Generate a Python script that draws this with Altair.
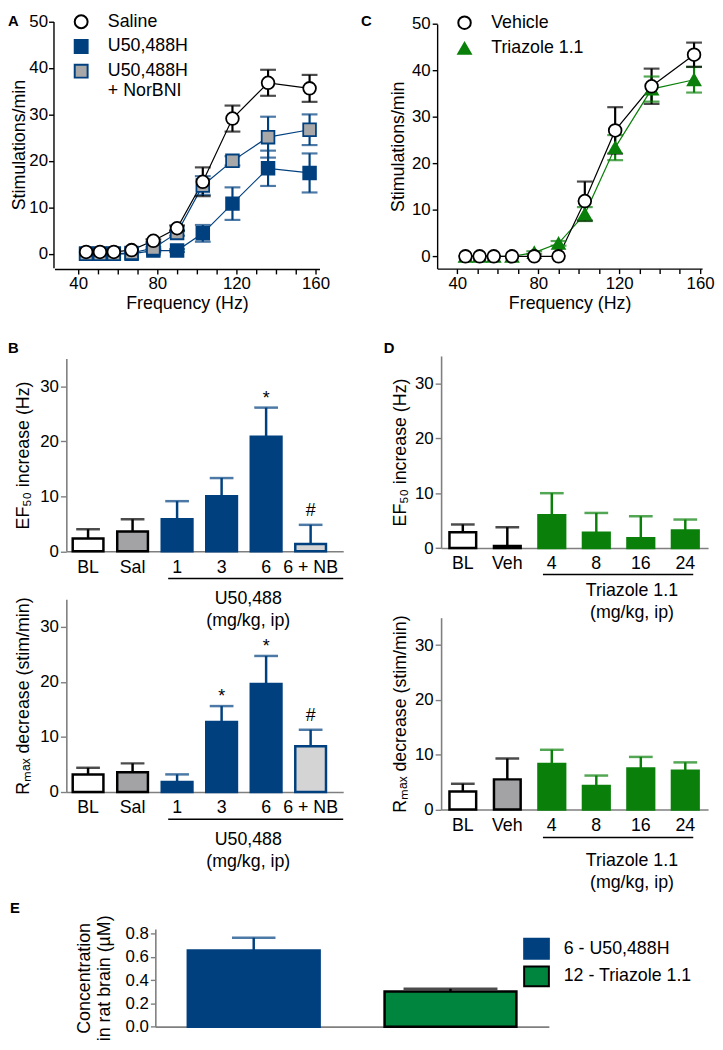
import altair as alt
import pandas as pd

W, H = 715, 1042
FONT = "Liberation Sans, Arial, Helvetica, sans-serif"
BLUE = "#00407f"
GREEN = "#0a800a"
EGREEN = "#00853f"
SALGRAY = "#a3a3a6"
NBGRAY = "#d4d4d4"
SQGRAY = "#a8a8a8"
AXGRAY = "#7f7f7f"

# ---------------- data ----------------
freq_hz = [44, 51, 58, 67, 78, 90, 103, 118, 136, 157]

saline_mean = [0.4, 0.4, 0.4, 0.8, 2.8, 5.5, 15.5, 29.1, 36.8, 35.6]
saline_sem = [0, 0, 0, 0, 0.3, 0.6, 3.1, 2.8, 2.8, 2.9]
u50_mean = [0, 0, 0, 0, 0.7, 0.7, 4.4, 10.8, 18.4, 17.4]
u50_sem = [0, 0, 0, 0, 0.3, 0.3, 1.8, 3.5, 3.8, 4.2]
nor_mean = [0, 0, 0, 0.2, 1.2, 4.5, 14.7, 20.0, 25.1, 26.7]
nor_sem = [0, 0, 0, 0, 0.3, 0.6, 2.0, 1.0, 4.4, 3.3]

veh_mean = [0, 0, 0, 0, 0, 0, 11.9, 27.1, 36.6, 43.4]
veh_sem = [0, 0, 0, 0, 0, 0, 4.2, 5.0, 3.8, 2.6]
tri_mean = [0, 0, 0, 0, 0.8, 2.8, 9.1, 23.4, 36.0, 38.0]
tri_sem = [0, 0, 0, 0, 0.3, 0.5, 1.5, 2.7, 2.7, 2.75]

cats_B = ["BL", "Sal", "1", "3", "6", "6 + NB"]
ef50_B = [2.3, 3.6, 5.8, 10.0, 20.8, 1.3]
ef50_B_sem = [1.7, 2.2, 3.3, 3.3, 5.3, 3.5]
ef50_B_sig = ["", "", "", "", "*", "#"]
rmax_B = [3.2, 3.6, 1.8, 12.7, 19.6, 8.3]
rmax_B_sem = [1.2, 1.6, 1.4, 2.9, 5.1, 3.0]
rmax_B_sig = ["", "", "", "*", "*", "#"]

cats_D = ["BL", "Veh", "4", "8", "16", "24"]
ef50_D = [2.9, 0.4, 6.0, 2.8, 1.8, 3.2]
ef50_D_sem = [1.4, 3.4, 4.0, 3.6, 4.0, 2.0]
rmax_D = [3.3, 5.5, 8.3, 4.3, 7.5, 7.1]
rmax_D_sem = [1.4, 3.8, 2.6, 1.9, 2.1, 1.5]
no_sig = ["", "", "", "", "", ""]

cats_E = ["6 - U50,488H", "12 - Triazole 1.1"]
conc_E = [0.655, 0.302]
conc_E_sem = [0.11, 0.024]

panel_letters = ["A", "B", "C", "D", "E"]
group_B = "U50,488"
group_D = "Triazole 1.1"
dose_unit = "(mg/kg, ip)"


# ---------------- helpers ----------------
def axis(color="black", **kw):
    base = dict(grid=False, domainColor=color, tickColor=color, domainWidth=1.4,
                tickWidth=1.4, labelColor="black", titleColor="black",
                labelFont=FONT, titleFont=FONT, labelFontSize=17, titleFontSize=18,
                titleFontWeight="normal", labelFlush=False, labelOverlap=False)
    base.update(kw)
    return alt.Axis(**base)


def series_frame(names, means, sems):
    rows = []
    for name, m, s in zip(names, means, sems):
        for f, mv, sv in zip(freq_hz, m, s):
            rows.append({"series": name, "x": f, "y": mv, "err": sv,
                         "lo": mv - sv, "hi": mv + sv})
    return pd.DataFrame(rows)


def bar_frame(cats, means, sems, sig):
    return pd.DataFrame({"cat": cats, "v": means,
                         "hi": [m + s for m, s in zip(means, sems)], "sig": sig})


def line_panel(df, order, xs, xa, ys, ya, line_colors, fills, strokes, shapes, legend):
    x = alt.X("x:Q", scale=xs, axis=xa)
    # spare domain entry keeps the hidden line-colour legend from merging with the symbol legend
    col = alt.Color("series:N", scale=alt.Scale(domain=order + ["-"], range=line_colors + ["black"]),
                    legend=None)
    lines = alt.Chart(df).mark_line(strokeWidth=1.2).encode(
        x=x, y=alt.Y("y:Q", scale=ys, axis=ya), color=col)
    edf = df[df["err"] > 0]
    err = alt.Chart(edf).mark_rule(strokeWidth=2.2).encode(
        x=x, y=alt.Y("lo:Q", scale=ys, axis=ya), y2="hi:Q", color=col)
    cap_hi = alt.Chart(edf).mark_tick(orient="horizontal", size=16, thickness=2.2).encode(
        x=x, y=alt.Y("hi:Q", scale=ys, axis=ya), color=col)
    cap_lo = alt.Chart(edf).mark_tick(orient="horizontal", size=16, thickness=2.2).encode(
        x=x, y=alt.Y("lo:Q", scale=ys, axis=ya), color=col)
    pts = alt.Chart(df).mark_point(filled=True, opacity=1, strokeWidth=1.8, size=165).encode(
        x=x, y=alt.Y("y:Q", scale=ys, axis=ya),
        shape=alt.Shape("series:N", scale=alt.Scale(domain=order, range=shapes), legend=legend),
        fill=alt.Fill("series:N", scale=alt.Scale(domain=order, range=fills), legend=legend),
        stroke=alt.Stroke("series:N", scale=alt.Scale(domain=order, range=strokes), legend=legend))
    return alt.layer(lines, err, cap_hi, cap_lo, pts)


def bar_panel(df, cats, xs, xa, ys, ya, fills, strokes, cap=24):
    x = alt.X("cat:N", sort=cats, scale=xs, axis=xa)
    bars = alt.Chart(df).mark_bar(strokeWidth=2.5).encode(
        x=x, y=alt.Y("v:Q", scale=ys, axis=ya),
        fill=alt.Fill("cat:N", scale=alt.Scale(domain=cats, range=fills), legend=None),
        stroke=alt.Stroke("cat:N", scale=alt.Scale(domain=cats, range=strokes), legend=None))
    col = alt.Color("cat:N", scale=alt.Scale(domain=cats, range=strokes), legend=None)
    err = alt.Chart(df).mark_rule(strokeWidth=2.5).encode(
        x=x, y=alt.Y("v:Q", scale=ys, axis=ya), y2="hi:Q", color=col)
    caps = alt.Chart(df).mark_tick(orient="horizontal", size=cap, thickness=2.5).encode(
        x=x, y=alt.Y("hi:Q", scale=ys, axis=ya), color=col)
    star = alt.Chart(df).transform_filter("datum.sig == '*'").mark_text(
        font=FONT, fontSize=18, dy=-4, baseline="alphabetic", color="black").encode(
        x=x, y=alt.Y("hi:Q", scale=ys, axis=ya), text="sig:N")
    hsh = alt.Chart(df).transform_filter("datum.sig == '#'").mark_text(
        font=FONT, fontSize=18, dy=-9, baseline="alphabetic", color="black").encode(
        x=x, y=alt.Y("hi:Q", scale=ys, axis=ya), text="sig:N")
    return alt.layer(bars, err, caps, star, hsh)


dummy = pd.DataFrame({"k": [0]})


def note(text, x, y, size=18, weight="normal", align="center", baseline="middle"):
    return alt.Chart(dummy).mark_text(
        text=text, font=FONT, fontSize=size, fontWeight=weight, color="black",
        align=align, baseline=baseline, lineBreak="\n", lineHeight=22).encode(
        x=alt.value(x), y=alt.value(y))


def hline(x1, x2, y):
    return alt.Chart(dummy).mark_rule(color="black", strokeWidth=1.5).encode(
        x=alt.value(x1), x2=alt.value(x2), y=alt.value(y))


# ---------------- panel A ----------------
orderA = ["Saline", "U50,488H", "U50,488H + NorBNI"]
dfA = series_frame(["U50,488H", "U50,488H + NorBNI", "Saline"],
                   [u50_mean, nor_mean, saline_mean], [u50_sem, nor_sem, saline_sem])
xsA = alt.Scale(domain=[28, 162], range=[47, 315], nice=False, zero=False)
ysA = alt.Scale(domain=[-3, 50], range=[256.8, 7.7], nice=False, zero=False)
xaA = axis(orient="bottom", offset=258 - H, values=list(range(40, 161, 10)),
           labelExpr="datum.value % 40 === 0 ? datum.label : ''", tickSize=5,
           labelPadding=2, title="Frequency (Hz)", titlePadding=3)
yaA = axis(orient="left", offset=-46, values=[0, 10, 20, 30, 40, 50], tickSize=5,
           labelPadding=1, title="Stimulations/min", titlePadding=0)
legA = alt.Legend(title=None, orient="none", legendX=65, legendY=-1, symbolSize=170,
                  symbolStrokeWidth=2, labelFontSize=18, labelFont=FONT, labelColor="black",
                  labelOffset=18, rowPadding=3, padding=0,
                  labelExpr="datum.label == 'U50,488H + NorBNI' ? ['U50,488H', '+ NorBNI'] : datum.label")
panelA = line_panel(dfA, orderA, xsA, xaA, ysA, yaA,
                    ["black", BLUE, BLUE], ["white", BLUE, SQGRAY], ["black", BLUE, BLUE],
                    ["circle", "square", "square"], legA)

# ---------------- panel C ----------------
orderC = ["Vehicle", "Triazole 1.1"]
dfC = series_frame(["Triazole 1.1", "Vehicle"], [tri_mean, veh_mean], [tri_sem, veh_sem])
xsC = alt.Scale(domain=[30, 161], range=[434, 702], nice=False, zero=False)
ysC = alt.Scale(domain=[-2.6, 50], range=[257.5, 10.3], nice=False, zero=False)
xaC = axis(orient="bottom", offset=257.7 - H, values=list(range(40, 161, 10)),
           labelExpr="datum.value % 40 === 0 ? datum.label : ''", tickSize=5,
           labelPadding=2, title="Frequency (Hz)", titlePadding=3)
yaC = axis(orient="left", offset=-434, values=[0, 10, 20, 30, 40, 50], tickSize=5,
           labelPadding=2, title="Stimulations/min", titlePadding=4)
legC = alt.Legend(title=None, orient="none", legendX=452.7, legendY=0, symbolSize=160,
                  symbolStrokeWidth=2, labelFontSize=18, labelFont=FONT, labelColor="black",
                  labelOffset=18, rowPadding=5, padding=0)
panelC = line_panel(dfC, orderC, xsC, xaC, ysC, yaC,
                    ["black", GREEN], ["white", GREEN], ["black", GREEN],
                    ["circle", "triangle-up"], legC)

# ---------------- panel B ----------------
xsB = alt.Scale(domain=cats_B, range=[59, 339], paddingInner=0.31, paddingOuter=0.265, align=0.27)
fillB = ["white", SALGRAY, BLUE, BLUE, BLUE, NBGRAY]
strokeB = ["black", "black", BLUE, BLUE, BLUE, BLUE]

ysBu = alt.Scale(domain=[0, 35], range=[543.5, 348.7], nice=False, zero=False)
xaBu = axis(color=AXGRAY, orient="bottom", offset=543.5 - H, title=None, ticks=False,
            tickSize=0, labelPadding=7, labelAngle=0, labelFontSize=18, domainWidth=1.6)
yaBu = axis(color=AXGRAY, orient="left", offset=-59, values=[0, 10, 20, 30], tickSize=6,
            labelPadding=2, title="EF₅₀ increase (Hz)", titlePadding=7, domainWidth=1.6)
panelBu = bar_panel(bar_frame(cats_B, ef50_B, ef50_B_sem, ef50_B_sig), cats_B,
                    xsB, xaBu, ysBu, yaBu, fillB, strokeB)

ysBl = alt.Scale(domain=[0, 35], range=[787, 592], nice=False, zero=False)
xaBl = axis(color=AXGRAY, orient="bottom", offset=787 - H, title=None, ticks=False,
            tickSize=0, labelPadding=7, labelAngle=0, labelFontSize=18, domainWidth=1.6)
yaBl = axis(color=AXGRAY, orient="left", offset=-59, values=[0, 10, 20, 30], tickSize=6,
            labelPadding=2, title="Rₘₐₓ decrease (stim/min)", titlePadding=7, domainWidth=1.6)
panelBl = bar_panel(bar_frame(cats_B, rmax_B, rmax_B_sem, rmax_B_sig), cats_B,
                    xsB, xaBl, ysBl, yaBl, fillB, strokeB)

# ---------------- panel D ----------------
xsD = alt.Scale(domain=cats_D, range=[438, 708], paddingInner=0.4, paddingOuter=0.2, align=0.47)
fillD = ["white", SALGRAY, GREEN, GREEN, GREEN, GREEN]
strokeD = ["black", "black", GREEN, GREEN, GREEN, GREEN]

ysDu = alt.Scale(domain=[0, 35], range=[540.3, 346], nice=False, zero=False)
xaDu = axis(color=AXGRAY, orient="bottom", offset=540.3 - H, title=None, ticks=False,
            tickSize=0, labelPadding=7, labelAngle=0, labelFontSize=18, domainWidth=1.6)
yaDu = axis(color=AXGRAY, orient="left", offset=-438, values=[0, 10, 20, 30], tickSize=6,
            labelPadding=2, title="EF₅₀ increase (Hz)", titlePadding=5, domainWidth=1.6)
panelDu = bar_panel(bar_frame(cats_D, ef50_D, ef50_D_sem, no_sig), cats_D,
                    xsD, xaDu, ysDu, yaDu, fillD, strokeD)

ysDl = alt.Scale(domain=[0, 35], range=[804.7, 610.7], nice=False, zero=False)
xaDl = axis(color=AXGRAY, orient="bottom", offset=804.7 - H, title=None, ticks=False,
            tickSize=0, labelPadding=7, labelAngle=0, labelFontSize=18, domainWidth=1.6)
yaDl = axis(color=AXGRAY, orient="left", offset=-438, values=[0, 10, 20, 30], tickSize=6,
            labelPadding=2, title="Rₘₐₓ decrease (stim/min)", titlePadding=5, domainWidth=1.6)
panelDl = bar_panel(bar_frame(cats_D, rmax_D, rmax_D_sem, no_sig), cats_D,
                    xsD, xaDl, ysDl, yaDl, fillD, strokeD)

# ---------------- panel E ----------------
dfE = pd.DataFrame({"cat": cats_E, "v": conc_E,
                    "hi": [m + s for m, s in zip(conc_E, conc_E_sem)]})
E0 = 1024.3
xsE = alt.Scale(domain=cats_E, range=[149, 547], paddingInner=0.33, paddingOuter=0.165)
ysE = alt.Scale(domain=[0, 0.84], range=[E0, E0 - 0.84 * 117.5], nice=False, zero=False)
xaE = axis(color=AXGRAY, orient="bottom", offset=E0 - H, title=None, ticks=False,
           labels=False, domainWidth=1.6)
yaE = axis(color=AXGRAY, orient="left", offset=-149, values=[0, 0.2, 0.4, 0.6, 0.8],
           format=".1f", tickSize=5, labelPadding=2,
           title=["Concentration", "in rat brain (µM)"], titlePadding=12,
           titleLineHeight=20, domainWidth=1.6)
legE = alt.Legend(title=None, orient="none", legendX=523.5, legendY=934.5,
                  symbolType="M-1.25,-1L1.25,-1L1.25,1L-1.25,1Z", symbolSize=400,
                  symbolStrokeWidth=2, labelFontSize=18, labelFont=FONT, labelColor="black",
                  labelOffset=16.5, rowPadding=0, padding=0)
xE = alt.X("cat:N", sort=cats_E, scale=xsE, axis=xaE)
barsE = alt.Chart(dfE).mark_bar(strokeWidth=2.5).encode(
    x=xE, y=alt.Y("v:Q", scale=ysE, axis=yaE),
    fill=alt.Fill("cat:N", scale=alt.Scale(domain=cats_E, range=[BLUE, EGREEN]), legend=legE),
    stroke=alt.Stroke("cat:N", scale=alt.Scale(domain=cats_E, range=[BLUE, "black"]), legend=legE))
colE = alt.Color("cat:N", scale=alt.Scale(domain=cats_E, range=[BLUE, "black"]), legend=None)
errE = alt.Chart(dfE).mark_rule(strokeWidth=2.5).encode(
    x=xE, y=alt.Y("v:Q", scale=ysE, axis=yaE), y2="hi:Q", color=colE)
capE1 = alt.Chart(dfE).transform_filter(alt.datum.cat == cats_E[0]).mark_tick(
    orient="horizontal", thickness=2.5, size=44).encode(
    x=xE, y=alt.Y("hi:Q", scale=ysE, axis=yaE), color=colE)
capE2 = alt.Chart(dfE).transform_filter(alt.datum.cat == cats_E[1]).mark_tick(
    orient="horizontal", thickness=2.5, size=95).encode(
    x=xE, y=alt.Y("hi:Q", scale=ysE, axis=yaE), color=colE)
panelE = alt.layer(barsE, errE, capE1, capE2)

# ---------------- annotations ----------------
notes = [
    note(panel_letters[0], 0, 0, size=15, weight="bold", align="left", baseline="top"),
    note(panel_letters[1], 0, 331, size=15, weight="bold", align="left", baseline="top"),
    note(panel_letters[2], 357, 0, size=15, weight="bold", align="left", baseline="top"),
    note(panel_letters[3], 380, 331, size=15, weight="bold", align="left", baseline="top"),
    note(panel_letters[4], 2, 897, size=15, weight="bold", align="left", baseline="top"),
    hline(162, 339, 571),
    note(group_B + "\n" + dose_unit, 243, 592),
    hline(162, 339, 814.5),
    note(group_B + "\n" + dose_unit, 243, 835.5),
    hline(541, 693, 567),
    note(group_D + "\n" + dose_unit, 631, 584),
    hline(541, 693, 833),
    note(group_D + "\n" + dose_unit, 631, 857),
]

chart = alt.layer(panelA, panelC, panelBu, panelBl, panelDu, panelDl, panelE, *notes).resolve_scale(
    x="independent", y="independent", color="independent", fill="independent",
    stroke="independent", shape="independent"
).properties(
    width=W, height=H, padding=0, autosize=alt.AutoSizeParams(type="none")
).configure_view(strokeWidth=0)

chart.save("out.html", embed_options={"renderer": "svg", "actions": False})
